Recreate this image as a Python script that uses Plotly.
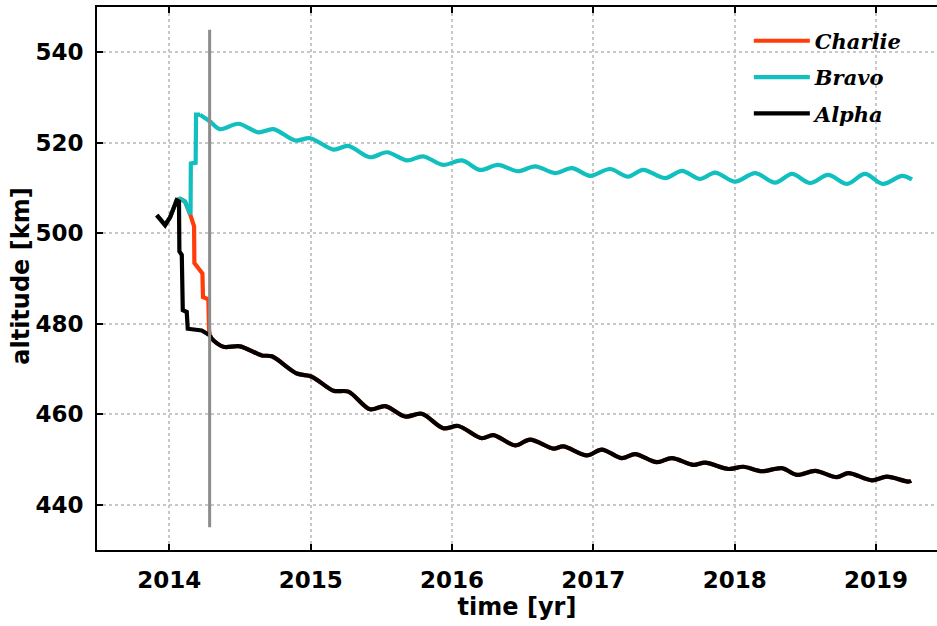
import plotly.graph_objects as go

# ---- altitude histories (decimal year, km) ----
launch_time = [2013.911, 2013.934, 2013.970, 2014.005, 2014.052]
launch_alt = [504.0, 503.0, 501.8, 503.5, 507.3]

# Alpha: early orbit-lowering burns, then natural decay
alpha_burn_time = [2014.068, 2014.071, 2014.088, 2014.095, 2014.123, 2014.130, 2014.229, 2014.288]
alpha_burn_alt = [507.0, 496.0, 495.2, 483.0, 482.6, 478.9, 478.5, 477.4]

decay_time = [2014.288, 2014.300, 2014.382, 2014.500, 2014.654, 2014.725, 2014.902, 2015.008,
              2015.161, 2015.267, 2015.420, 2015.527, 2015.668, 2015.786, 2015.939, 2016.045,
              2016.211, 2016.293, 2016.447, 2016.553, 2016.718, 2016.788, 2016.954, 2017.060,
              2017.202, 2017.296, 2017.449, 2017.556, 2017.708, 2017.791, 2017.956, 2018.062,
              2018.193, 2018.334, 2018.440, 2018.570, 2018.723, 2018.805, 2018.971, 2019.077,
              2019.230, 2019.249]
decay_alt = [477.4, 476.7, 474.9, 475.0, 473.0, 472.8, 469.0, 468.3,
             465.2, 465.0, 461.1, 461.8, 459.5, 460.1, 456.9, 457.4,
             454.7, 455.4, 453.1, 454.4, 452.4, 452.9, 450.9, 452.2,
             450.3, 451.2, 449.4, 450.3, 448.8, 449.3, 447.9, 448.4,
             447.4, 448.1, 446.6, 447.5, 446.1, 447.0, 445.4, 446.2,
             445.1, 445.3]

# Charlie: staged descent that ends on Alpha's orbit
charlie_burn_time = [2014.076, 2014.111, 2014.148, 2014.175, 2014.177, 2014.217, 2014.234,
                     2014.238, 2014.276, 2014.281, 2014.288]
charlie_burn_alt = [507.6, 507.0, 504.1, 501.5, 493.4, 491.5, 491.1, 485.9, 485.4, 478.5, 477.4]

# Bravo: raised orbit
bravo_burn_time = [2014.076, 2014.111, 2014.146, 2014.150, 2014.152, 2014.182, 2014.186,
                   2014.189, 2014.217]
bravo_burn_alt = [507.6, 507.0, 504.4, 504.2, 515.4, 515.4, 515.6, 526.2, 526.2]
bravo_orbit_time = [2014.217, 2014.288, 2014.359, 2014.488, 2014.630, 2014.736, 2014.890, 2014.996,
                    2015.161, 2015.265, 2015.420, 2015.540, 2015.682, 2015.795, 2015.937, 2016.071,
                    2016.199, 2016.326, 2016.467, 2016.588, 2016.729, 2016.849, 2016.977, 2017.118,
                    2017.246, 2017.352, 2017.508, 2017.628, 2017.756, 2017.862, 2018.003, 2018.145,
                    2018.287, 2018.406, 2018.534, 2018.662, 2018.796, 2018.922, 2019.049, 2019.185,
                    2019.255]
bravo_orbit_alt = [526.2, 524.7, 523.0, 524.2, 522.3, 523.0, 520.5, 521.0,
                   518.5, 519.3, 516.8, 517.9, 516.1, 517.0, 515.1, 516.1,
                   514.0, 515.1, 513.7, 514.8, 513.3, 514.4, 512.7, 514.2,
                   512.5, 514.0, 512.2, 513.8, 512.0, 513.4, 511.4, 513.3,
                   511.2, 513.1, 511.1, 512.9, 510.9, 513.1, 510.9, 512.7,
                   511.9]

# reference epoch marker
marker_time = 2014.285
marker_span = [435.0, 545.0]

x_ticks = [2014, 2015, 2016, 2017, 2018, 2019]
y_ticks = [440, 460, 480, 500, 520, 540]
x_range = [2013.488, 2019.432]
y_range = [430.0, 550.0]

series = [
    ("Charlie", "#ff3c0a",
     launch_time + charlie_burn_time, launch_alt + charlie_burn_alt, decay_time, decay_alt),
    ("Bravo", "#11bfbf",
     launch_time + bravo_burn_time, launch_alt + bravo_burn_alt, bravo_orbit_time, bravo_orbit_alt),
    ("Alpha", "#000000",
     launch_time + alpha_burn_time, launch_alt + alpha_burn_alt, decay_time, decay_alt),
]

fig = go.Figure()
LW = 4.2
for name, color, bt, ba, ot, oa in series:
    fig.add_trace(go.Scatter(x=bt, y=ba, mode="lines", name=name, legendgroup=name,
                             line=dict(color=color, width=LW), showlegend=True))
    fig.add_trace(go.Scatter(x=ot, y=oa, mode="lines", name=name, legendgroup=name,
                             line=dict(color=color, width=LW, shape="spline", smoothing=0.9),
                             showlegend=False))

fig.add_trace(go.Scatter(x=[marker_time, marker_time], y=marker_span, mode="lines",
                         line=dict(color="#8c8c8c", width=3), showlegend=False,
                         hoverinfo="skip"))

tick_font = dict(family="DejaVu Sans", size=23, color="black", weight="bold")
title_font = dict(family="DejaVu Sans", size=24, color="black", weight="bold")
axis_common = dict(
    showline=True, linecolor="black", linewidth=2,
    ticks="inside", ticklen=6, tickwidth=2, tickcolor="black",
    showgrid=True, gridcolor="#c8c8c8", gridwidth=1.5, griddash="dot",
    zeroline=False, tickfont=tick_font,
)

fig.update_layout(
    width=937, height=626,
    margin=dict(l=97, r=0, t=7, b=76),
    paper_bgcolor="white", plot_bgcolor="white",
    xaxis=dict(range=x_range, tickvals=x_ticks, ticktext=[str(v) for v in x_ticks],
               mirror="ticks", ticklabelstandoff=8,
               title=dict(text="time [yr]", font=title_font, standoff=6),
               **axis_common),
    yaxis=dict(range=y_range, tickvals=y_ticks, ticktext=[str(v) for v in y_ticks],
               ticklabelstandoff=7, **axis_common),
    legend=dict(x=0.776, y=0.975, xanchor="left", yanchor="top",
                bgcolor="rgba(255,255,255,0)", tracegroupgap=6,
                traceorder="grouped", itemwidth=56,
                font=dict(family="DejaVu Serif", size=21, color="black",
                          style="italic", weight="bold")),
    showlegend=True,
)

# y-axis title placed as a rotated annotation
fig.add_annotation(text="altitude [km]", textangle=-90, showarrow=False,
                   xref="paper", yref="paper", x=-0.0905, y=0.505,
                   xanchor="center", yanchor="middle", font=title_font)

fig.write_html("out.html")
